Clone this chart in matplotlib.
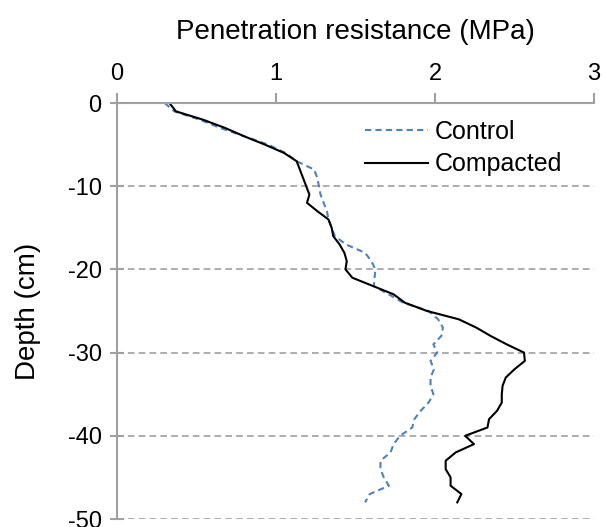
import numpy as np
import matplotlib
matplotlib.use('Agg')
import matplotlib.pyplot as plt

plt.rcParams['font.family'] = ['Liberation Sans', 'DejaVu Sans']
plt.rcParams['axes.unicode_minus'] = False

# depth below surface (cm), one reading per cm
depth = np.arange(0, -49, -1)

control = [0.30, 0.36, 0.52, 0.65, 0.80, 0.95, 1.06, 1.13, 1.24, 1.26,
           1.27, 1.28, 1.30, 1.32, 1.33, 1.35, 1.37, 1.44, 1.56, 1.60,
           1.625, 1.62, 1.615, 1.71, 1.80, 1.96, 2.02, 2.05, 2.04, 1.99,
           2.014, 1.972, 1.993, 1.972, 1.972, 1.99, 1.96, 1.91, 1.87, 1.857,
           1.78, 1.74, 1.72, 1.657, 1.657, 1.678, 1.71, 1.59, 1.56]

compacted = [0.33, 0.37, 0.54, 0.68, 0.80, 0.93, 1.05, 1.13, 1.15, 1.17,
             1.19, 1.21, 1.195, 1.26, 1.33, 1.35, 1.36, 1.40, 1.43, 1.445,
             1.437, 1.48, 1.61, 1.74, 1.81, 1.95, 2.15, 2.26, 2.35, 2.45,
             2.56, 2.565, 2.50, 2.445, 2.425, 2.42, 2.42, 2.39, 2.34, 2.33,
             2.19, 2.245, 2.13, 2.067, 2.067, 2.098, 2.098, 2.166, 2.14]

xticks = [0, 1, 2, 3]
yticks = [0, -10, -20, -30, -40, -50]

fig = plt.figure(figsize=(6.05, 5.27), dpi=100)
ax = fig.add_axes([117/605, 8/527, 477/605, 416/527])

ax.plot(control, depth, color='#4f81bd', lw=1.5, ls=(0, (3, 2)), label='Control')
ax.plot(compacted, depth, color='black', lw=1.5, label='Compacted')

ax.set_xlim(0, 3)
ax.set_ylim(-50, 0)
ax.set_xticks(xticks)
ax.set_yticks(yticks)

# gridlines (dashed, not at 0 where the top axis sits)
for y in yticks[1:]:
    ax.axhline(y, color='#a0a0a0', lw=1.2, ls=(0, (4, 2.5)), zorder=0)

grey = '#a0a0a0'
for s in ['right', 'bottom']:
    ax.spines[s].set_visible(False)
ax.spines['top'].set_color(grey)
ax.spines['left'].set_color(grey)
ax.spines['top'].set_linewidth(1.5)
ax.spines['left'].set_linewidth(1.5)

ax.xaxis.tick_top()
ax.xaxis.set_label_position('top')
ax.tick_params(axis='x', direction='out', length=7, width=1.5, color=grey,
               labelsize=17, pad=6)
ax.tick_params(axis='y', direction='inout', length=10, width=1.5, color=grey,
               labelsize=17, pad=6)
ax.set_xlabel('Penetration resistance (MPa)', fontsize=20, labelpad=17)
ax.set_ylabel('Depth (cm)', fontsize=20, labelpad=19)

ax.legend(loc='upper left', bbox_to_anchor=(0.52, 0.96), frameon=False,
          fontsize=18, handlelength=2.5, handletextpad=0.28, labelspacing=0.35,
          borderpad=0, borderaxespad=0)

fig.savefig('out.png', dpi=100)
